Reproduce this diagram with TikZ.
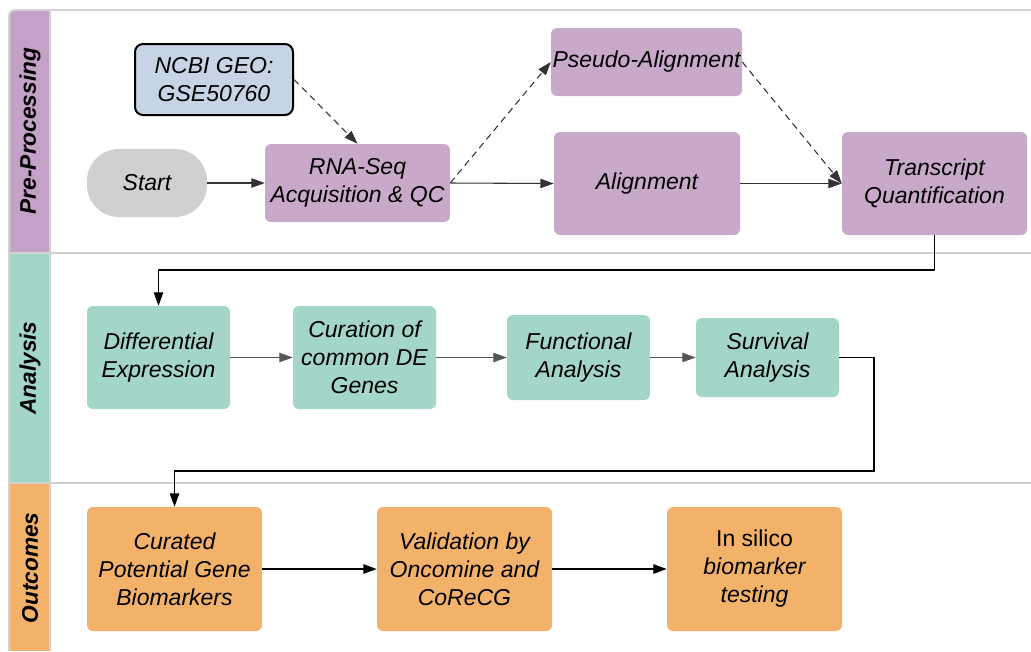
\documentclass[tikz,border=0pt]{standalone}
\usepackage{fontspec}
\setmainfont{Liberation Sans}
\usetikzlibrary{arrows.meta}
\definecolor{laneline}{HTML}{D2D2D2}
\definecolor{ppstrip}{HTML}{C4A1C6}
\definecolor{ppfill}{HTML}{C9A9CA}
\definecolor{anfill}{HTML}{A3D5C9}
\definecolor{oufill}{HTML}{F2B26A}
\definecolor{geofill}{HTML}{C6D4E5}
\definecolor{startfill}{HTML}{D0D0D0}
\definecolor{darkline}{HTML}{333333}
\definecolor{midline}{HTML}{555555}

\tikzset{
  sz/.style 2 args={minimum width=#1*0.75pt, minimum height=#2*0.75pt},
  stepbox/.style={rectangle, rounded corners=4.5pt, draw=none, align=center,
    inner sep=1pt, text=black,
    font=\fontsize{17.25pt}{21pt}\selectfont\itshape},
  ppbox/.style={stepbox, fill=ppfill},
  anbox/.style={stepbox, fill=anfill},
  oubox/.style={stepbox, fill=oufill},
  lanelabel/.style={rotate=90, font=\fontsize{17pt}{20pt}\selectfont\bfseries\itshape},
  flow/.style={-{Triangle[length=10pt,width=7pt]}, line width=0.8pt, draw=darkline},
  dflow/.style={flow, dash pattern=on 5pt off 3.5pt},
  gflow/.style={flow, draw=midline, line width=0.75pt},
  bflow/.style={-{Triangle[length=10pt,width=7pt]}, line width=1.2pt, draw=black},
}

\begin{document}
\begin{tikzpicture}[x=0.75pt,y=-0.75pt]
\useasboundingbox (0,0) rectangle (1031,651);

% lane label strips
\fill[ppstrip] (10,11) rectangle (49,252);
\fill[anfill] (10,254) rectangle (49,482);
\fill[oufill] (10,484) rectangle (49,651);

% lane borders
\draw[laneline, line width=1.5pt, rounded corners=4pt] (9,651) -- (9,10) -- (1031,10);
\draw[laneline, line width=1.5pt] (50,10) -- (50,651);
\draw[laneline, line width=1.5pt] (9,253) -- (1031,253);
\draw[laneline, line width=1.5pt] (9,483) -- (1031,483);

% lane titles
\node[lanelabel] (lpp) at (30,131) {Pre-Processing};
\node[lanelabel] (lan) at (30,368) {Analysis};
\node[lanelabel] (lou) at (30,568) {Outcomes};

% pre-processing steps
\node[stepbox, sz={158}{71}, fill=geofill, draw=black, line width=1.5pt, rounded corners=6pt]
  (geo) at (214,79.5) {NCBI GEO:\\GSE50760};
\node[stepbox, sz={120}{68}, fill=startfill, rounded corners=24pt] (start) at (147,183) {Start};
\node[ppbox, sz={185}{78}] (rna) at (357.5,183) {RNA-Seq\\Acquisition \& QC};
\node[ppbox, sz={191}{68}] (pseudo) at (646.5,62) {Pseudo-Alignment};
\node[ppbox, sz={186}{103}] (align) at (647,183.5) {Alignment};
\node[ppbox, sz={185}{103}] (tq) at (934.5,183.5) {Transcript\\Quantification};

% analysis steps
\node[anbox, sz={143}{103}] (de) at (158.5,357.5) {Differential\\Expression};
\node[anbox, sz={143}{103}] (cur) at (364.5,357.5) {Curation of\\common DE\\Genes};
\node[anbox, sz={143}{85}] (fa) at (578.5,357.5) {Functional\\Analysis};
\node[anbox, sz={143}{79}] (sa) at (767.5,357.5) {Survival\\Analysis};

% outcome steps
\node[oubox, sz={175}{124}] (cpg) at (174.5,569) {Curated\\Potential Gene\\Biomarkers};
\node[oubox, sz={175}{124}] (val) at (464.5,569) {Validation by\\Oncomine and\\CoReCG};
\node[oubox, sz={175}{124}] (ins) at (754.5,569) {{\upshape In silico}\\biomarker\\testing};

% pre-processing connectors
\draw[flow] (start) -- (rna);
\draw[dflow] (geo.east) -- (rna.north);
\draw[dflow] (rna.east) -- (pseudo.west);
\draw[flow] (rna.east) -- (align.west);
\draw[dflow] (pseudo.east) -- (tq.west);
\draw[flow] (align.east) -- (tq.west);

% lane-to-lane connectors
\coordinate (k1) at (934.5,270);
\draw[flow, draw=black, line width=1pt] (tq.south) -- (k1) -| (de.north);
\coordinate (k2) at (874,471);
\draw[flow, draw=black, line width=1pt] (sa.east) -| (k2) -| (cpg.north);

% analysis connectors
\draw[gflow] (de) -- (cur);
\draw[gflow] (cur) -- (fa);
\draw[gflow] (fa) -- (sa);

% outcome connectors
\draw[bflow] (cpg) -- (val);
\draw[bflow] (val) -- (ins);
\end{tikzpicture}
\end{document}
